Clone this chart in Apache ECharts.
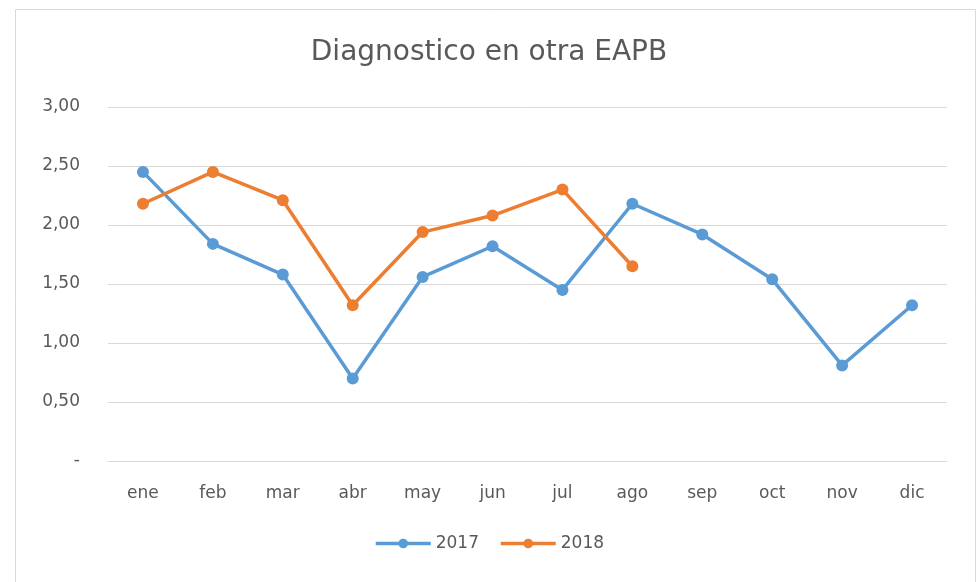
<!DOCTYPE html>
<html>
<head>
<meta charset="utf-8">
<title>Diagnostico en otra EAPB</title>
<script src="https://cdn.jsdelivr.net/npm/echarts@6/dist/echarts.min.js"></script>
<style>
  html, body { margin: 0; padding: 0; background: #fff; }
  #chart { width: 978px; height: 582px; }
</style>
</head>
<body>
<div id="chart"></div>
<script>
var months = ['ene', 'feb', 'mar', 'abr', 'may', 'jun', 'jul', 'ago', 'sep', 'oct', 'nov', 'dic']
var data2017 = [2.45, 1.84, 1.58, 0.70, 1.56, 1.82, 1.45, 2.18, 1.92, 1.54, 0.81, 1.32]
var data2018 = [2.18, 2.45, 2.21, 1.32, 1.94, 2.08, 2.30, 1.65]
var seriesNames = ['2017', '2018']

var chart = echarts.init(document.getElementById('chart'))
var textColor = '#595959'
var font = '"DejaVu Sans", "Noto Sans", sans-serif'

chart.setOption({
  animation: false,
  textStyle: { fontFamily: font },
  // chart frame border like the excel chart area
  graphic: [{
    type: 'rect',
    shape: { x: 15.5, y: 9.5, width: 960, height: 580 },
    style: { fill: 'none', stroke: '#d9d9d9', lineWidth: 1 }
  }],
  title: {
    text: 'Diagnostico en otra EAPB',
    left: 'center',
    top: 34,
    textStyle: { color: textColor, fontSize: 28, fontWeight: 'normal', fontFamily: font }
  },
  grid: {
    left: 108,
    right: 31,
    top: 107,
    bottom: 121
  },
  legend: {
    data: seriesNames,
    bottom: 25,
    left: 'center',
    itemWidth: 55,
    itemHeight: 12,
    itemGap: 20,
    lineStyle: { width: 3.5 },
    textStyle: { color: textColor, fontSize: 17, fontFamily: font }
  },
  xAxis: {
    type: 'category',
    data: months,
    boundaryGap: true,
    axisLine: { lineStyle: { color: '#d9d9d9' } },
    axisTick: { show: false },
    axisLabel: { color: textColor, fontSize: 17, margin: 24 }
  },
  yAxis: {
    type: 'value',
    min: 0,
    max: 3,
    interval: 0.5,
    axisLine: { show: false },
    axisTick: { show: false },
    splitLine: { lineStyle: { color: '#d9d9d9' } },
    axisLabel: {
      color: textColor,
      fontSize: 17,
      margin: 28,
      formatter: function (v) {
        if (v === 0) return '-'
        return v.toFixed(2).replace('.', ',')
      }
    }
  },
  series: [{
    name: seriesNames[0],
    type: 'line',
    data: data2017,
    symbol: 'circle',
    symbolSize: 12,
    itemStyle: { color: '#5b9bd5' },
    lineStyle: { color: '#5b9bd5', width: 3.5 }
  },
  {
    name: seriesNames[1],
    type: 'line',
    data: data2018,
    symbol: 'circle',
    symbolSize: 12,
    itemStyle: { color: '#ed7d31' },
    lineStyle: { color: '#ed7d31', width: 3.5 }
  }]
})
</script>
</body>
</html>
